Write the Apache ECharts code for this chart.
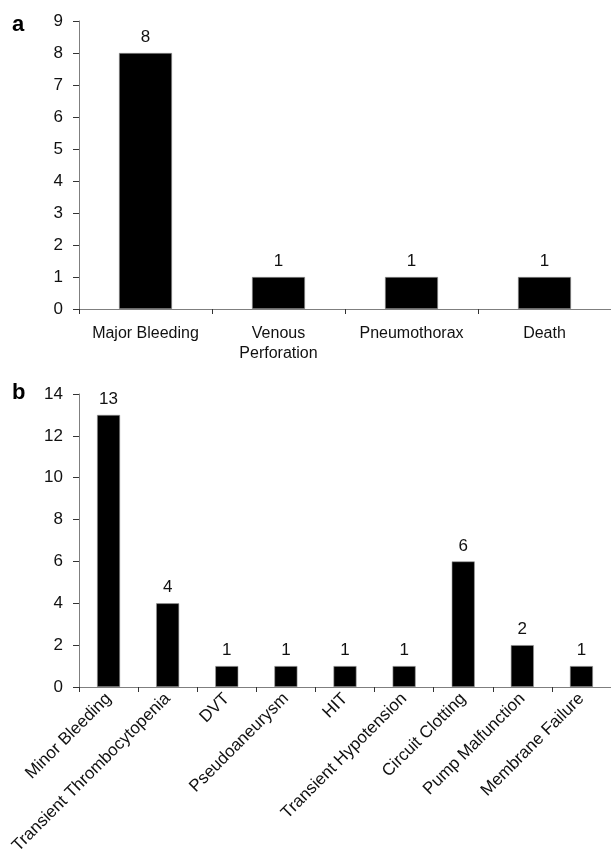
<!DOCTYPE html>
<html>
<head>
<meta charset="utf-8">
<script src="https://cdn.jsdelivr.net/npm/echarts@6/dist/echarts.min.js"></script>
<style>
  html, body { margin: 0; padding: 0; background: #fff; }
  #chart { width: 611px; height: 866px; }
</style>
</head>
<body>
<div id="chart"></div>
<script>
// panel a
var catsA = ['Major Bleeding', 'Venous\nPerforation', 'Pneumothorax', 'Death']
var valsA = [8, 1, 1, 1]
// panel b
var catsB = ['Minor Bleeding', 'Transient Thrombocytopenia', 'DVT', 'Pseudoaneurysm', 'HIT',
             'Transient Hypotension', 'Circuit Clotting', 'Pump Malfunction', 'Membrane Failure']
var valsB = [13, 4, 1, 1, 1, 1, 6, 2, 1]

var fontName = '"Liberation Sans", Arial, sans-serif'
var axisGray = '#7f7f7f'

function catAxis(idx, data, rotate){
    return {
        type: 'category',
        gridIndex: idx,
        data: data,
        axisLine: { lineStyle: { color: axisGray, width: 1 } },
        axisTick: { show: true, length: 5, lineStyle: { color: '#333' } },
        axisLabel: {
            color: '#111', fontFamily: fontName, fontSize: rotate ? 17 : 16,
            interval: 0, rotate: rotate, margin: rotate ? 9 : 15, lineHeight: 20
        }
    }
}

function valAxis(idx, max, interval){
    return {
        type: 'value',
        gridIndex: idx,
        min: 0, max: max, interval: interval,
        splitLine: { show: false },
        axisLine: { show: true, lineStyle: { color: axisGray, width: 1 } },
        axisTick: { show: true, length: 6, lineStyle: { color: '#333' } },
        axisLabel: { color: '#111', fontFamily: fontName, fontSize: 17, margin: 16 }
    }
}

function barSeries(idx, vals, width){
    return {
        type: 'bar',
        xAxisIndex: idx, yAxisIndex: idx,
        data: vals,
        barWidth: width,
        itemStyle: { color: '#000', borderColor: '#9a9a9a', borderWidth: 0.6 },
        label: {
            show: true, position: 'top', distance: 7,
            color: '#111', fontFamily: fontName, fontSize: 17
        },
        animation: false
    }
}

var option = {
    animation: false,
    backgroundColor: '#fff',
    grid: [
        { left: 79, top: 21, width: 539, height: 288 },
        { left: 79, top: 394, width: 543, height: 293 }
    ],
    xAxis: [ catAxis(0, catsA, 0), catAxis(1, catsB, 45) ],
    yAxis: [ valAxis(0, 9, 1), valAxis(1, 14, 2) ],
    series: [ barSeries(0, valsA, 53), barSeries(1, valsB, 23) ],
    graphic: [
        { type: 'text', left: 12, top: 14, style: { text: 'a', font: 'bold 22px ' + fontName, fill: '#000' } },
        { type: 'text', left: 12, top: 382, style: { text: 'b', font: 'bold 22px ' + fontName, fill: '#000' } }
    ]
}

var myChart = echarts.init(document.getElementById('chart'))
myChart.setOption(option)
</script>
</body>
</html>
